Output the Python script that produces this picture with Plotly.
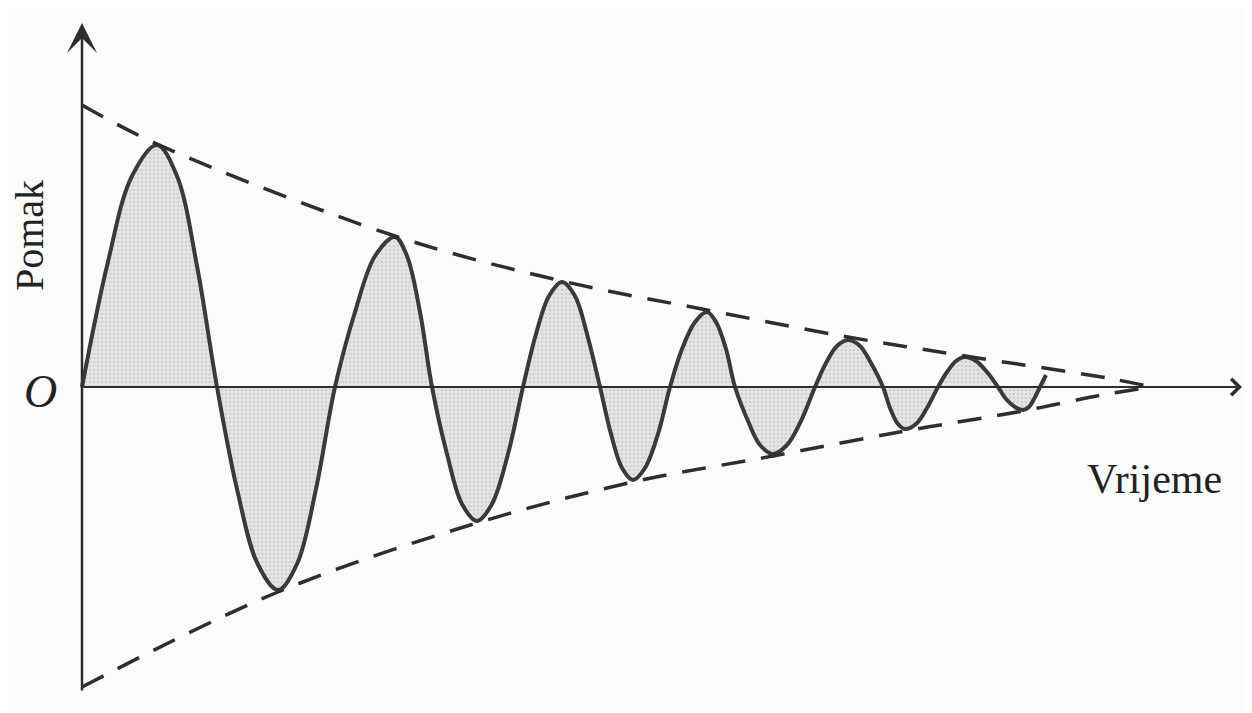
import plotly.graph_objects as go

# damped oscillation (time units, displacement units)
vrijeme = [0,
           0.25, 0.50, 0.75, 0.95, 1.15, 1.35,
           1.55, 1.757, 1.96, 2.15, 2.34, 2.53,
           2.73, 2.93, 3.13, 3.25, 3.38, 3.50,
           3.65, 3.80, 3.95, 4.10, 4.26, 4.41,
           4.54, 4.67, 4.80, 4.93, 5.05, 5.18,
           5.29, 5.40, 5.51, 5.63, 5.76, 5.88,
           6.00, 6.13, 6.25, 6.34, 6.44, 6.53,
           6.66, 6.78, 6.91, 7.05, 7.19, 7.33,
           7.44, 7.55, 7.66, 7.78, 7.89, 8.01,
           8.08, 8.16, 8.23, 8.34, 8.45, 8.56,
           8.65, 8.74, 8.83, 8.94, 9.05, 9.16,
           9.24, 9.33, 9.41, 9.47, 9.52, 9.58, 9.64]
pomak = [0,
         1.21, 2.11, 2.42, 2.11, 1.21, 0,
         -1.02, -1.77, -2.03, -1.77, -1.02, 0,
         0.75, 1.31, 1.50, 1.31, 0.75, 0,
         -0.67, -1.17, -1.34, -1.17, -0.67, 0,
         0.53, 0.91, 1.05, 0.91, 0.53, 0,
         -0.47, -0.81, -0.93, -0.81, -0.47, 0,
         0.38, 0.65, 0.75, 0.65, 0.38, 0,
         -0.34, -0.58, -0.67, -0.58, -0.34, 0,
         0.24, 0.41, 0.47, 0.41, 0.24, 0,
         -0.21, -0.37, -0.42, -0.37, -0.21, 0,
         0.15, 0.26, 0.30, 0.26, 0.15, 0,
         -0.12, -0.20, -0.23, -0.20, -0.12, 0, 0.12]

# dashed envelopes
gornja_t = [0, 0.75, 3.13, 4.80, 6.25, 7.66, 8.83, 10.25, 10.70]
gornja = [2.82, 2.43, 1.51, 1.06, 0.77, 0.50, 0.31, 0.09, 0.0]
donja_t = [0, 1.96, 3.95, 5.51, 6.91, 8.23, 9.41, 10.20, 10.70]
donja = [-3.00, -2.05, -1.36, -0.95, -0.69, -0.44, -0.24, -0.08, 0.0]

ink = "#2e2e2e"
serif = "Liberation Serif, Times New Roman, serif"

fig = go.Figure()

fig.add_trace(go.Scatter(
    x=vrijeme, y=pomak, mode="lines",
    line=dict(color="#3a3a3a", width=4, shape="spline", smoothing=1.0),
    fill="tozeroy", fillcolor="#e2e2e2",
    fillpattern=dict(shape=".", fgcolor="#bdbdbd", bgcolor="#e4e4e4",
                     size=4, solidity=0.35),
    hoverinfo="skip",
))

for tt, yy in [(gornja_t, gornja), (donja_t, donja)]:
    fig.add_trace(go.Scatter(
        x=tt, y=yy, mode="lines",
        line=dict(color=ink, width=3.5, dash="24px,16px", shape="spline"),
        hoverinfo="skip",
    ))

# axes with arrows
fig.add_annotation(x=11.60, y=0, ax=0, ay=0, xref="x", yref="y",
                   axref="x", ayref="y", text="", showarrow=True,
                   arrowhead=4, arrowsize=1.6, arrowwidth=2, arrowcolor=ink,
                   standoff=0)
fig.add_annotation(x=0, y=3.64, ax=0, ay=-3.05, xref="x", yref="y",
                   axref="x", ayref="y", text="", showarrow=True,
                   arrowhead=3, arrowsize=2, arrowwidth=2.5, arrowcolor=ink,
                   standoff=0)

fig.add_annotation(x=-0.53, y=1.51, text="Pomak", showarrow=False,
                   textangle=-90, font=dict(family=serif, size=40, color="#222"))
fig.add_annotation(x=-0.42, y=-0.04, text="<i>O</i>", showarrow=False,
                   font=dict(family=serif, size=46, color="#222"))
fig.add_annotation(x=10.72, y=-0.92, text="Vrijeme", showarrow=False,
                   font=dict(family=serif, size=42, color="#222"))

# the page has an 8px body margin, so the figure is shrunk by that much
fig.update_xaxes(visible=False, range=[-0.74, 11.70])
fig.update_yaxes(visible=False, range=[-3.26, 3.79])
fig.update_layout(
    width=1244, height=705,
    margin=dict(l=0, r=0, t=0, b=0),
    showlegend=False,
    plot_bgcolor="#fbfbfb", paper_bgcolor="#fbfbfb",
)

fig.write_html("out.html")
